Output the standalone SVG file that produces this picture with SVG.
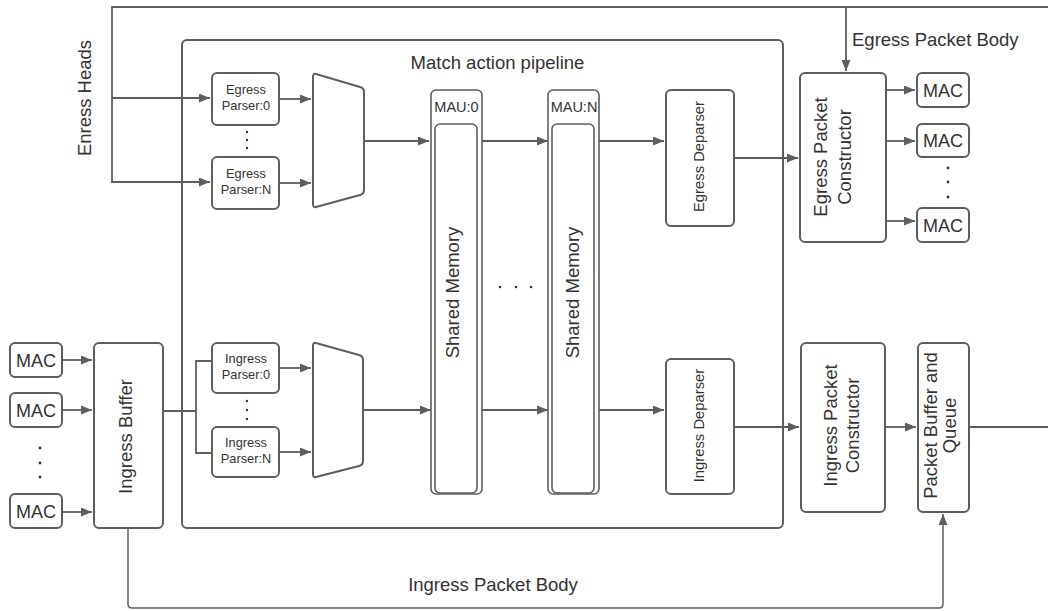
<svg xmlns="http://www.w3.org/2000/svg" width="1048" height="611" viewBox="0 0 1048 611">
<defs>
<marker id="ah" markerUnits="userSpaceOnUse" markerWidth="11" markerHeight="9" refX="11" refY="4.5" orient="auto">
<path d="M0,0 L11,4.5 L0,9 z" fill="#5e5e5e"/>
</marker>
<style>
.box{fill:#fff;stroke:#5e5e5e;stroke-width:2}
.thin{fill:#fff;stroke:#5e5e5e;stroke-width:1.6}
.c{fill:none;stroke:#5e5e5e;stroke-width:1.8}
.ca{fill:none;stroke:#5e5e5e;stroke-width:1.8;marker-end:url(#ah)}
text{font-family:"Liberation Sans",Arial,sans-serif;fill:#333;text-anchor:middle}
.big{font-size:18.5px}
.mac{font-size:18px}
.mau{font-size:14.5px}
.dep{font-size:14.8px}
.par{font-size:12.8px}
.dot{fill:#333}
</style>
</defs>
<rect width="1048" height="611" fill="#fff"/>

<g id="pipeline">
<rect class="box" x="182" y="40" width="601" height="488" rx="5"/>
<text class="big" x="497.5" y="69">Match action pipeline</text>
</g>

<g id="connectors">
<path class="ca" d="M1048,7 H112 V182 H210"/>
<path class="ca" d="M112,98 H210"/>
<path class="ca" d="M846,7 V71"/>
<path class="ca" d="M279,99 H311"/>
<path class="ca" d="M279,183 H311"/>
<path class="ca" d="M364,141 H429"/>
<path class="ca" d="M478,141 H548"/>
<path class="ca" d="M596,141 H664"/>
<path class="ca" d="M734,158 H798"/>
<path class="ca" d="M886,90 H915"/>
<path class="ca" d="M886,141 H915"/>
<path class="ca" d="M886,221 H915"/>
<path class="ca" d="M62,360 H92"/>
<path class="ca" d="M62,410 H92"/>
<path class="ca" d="M62,512 H92"/>
<path class="c" d="M163,411 H196"/>
<path class="c" d="M212,361 H196 V453 H212"/>
<path class="ca" d="M279,368 H311"/>
<path class="ca" d="M279,452 H311"/>
<path class="ca" d="M363,410 H431"/>
<path class="ca" d="M478,410 H548"/>
<path class="ca" d="M596,410 H664"/>
<path class="ca" d="M734,427 H799"/>
<path class="ca" d="M885,427 H916"/>
<path class="c" d="M969,427 H1048"/>
<path class="ca" style="stroke-width:1.5" d="M128,528 V604 Q128,608 132,608 H939 Q943,608 943,604 V514"/>
<text class="big" transform="translate(91,98) rotate(-90)">Enress Heads</text>
<text class="big" x="852" y="46" style="text-anchor:start">Egress Packet Body</text>
<text class="big" x="493" y="591">Ingress Packet Body</text>
</g>

<g id="egress-parser-0">
<rect class="box" x="212" y="73" width="67" height="52" rx="5"/>
<text class="par" x="246" y="94">Egress</text>
<text class="par" x="246" y="110">Parser:0</text>
</g>
<g id="egress-parser-dots">
<circle class="dot" cx="247" cy="132" r="1.2"/>
<circle class="dot" cx="247" cy="140" r="1.2"/>
<circle class="dot" cx="247" cy="148" r="1.2"/>
</g>
<g id="egress-parser-n">
<rect class="box" x="212" y="157" width="67" height="52" rx="5"/>
<text class="par" x="246" y="178">Egress</text>
<text class="par" x="246" y="194">Parser:N</text>
</g>
<g id="egress-mux">
<path class="box" stroke-linejoin="round" d="M316,74 L360,87 Q364,88 364,92 L364,190 Q364,194 360,195 L316,207 Q313,208 313,204 L313,77 Q313,73 316,74 z"/>
</g>

<g id="ingress-parser-0">
<rect class="box" x="212" y="343" width="67" height="50" rx="5"/>
<text class="par" x="246" y="363">Ingress</text>
<text class="par" x="246" y="379">Parser:0</text>
</g>
<g id="ingress-parser-dots">
<circle class="dot" cx="247" cy="401" r="1.2"/>
<circle class="dot" cx="247" cy="410" r="1.2"/>
<circle class="dot" cx="247" cy="419" r="1.2"/>
</g>
<g id="ingress-parser-n">
<rect class="box" x="212" y="427" width="67" height="50" rx="5"/>
<text class="par" x="246" y="447">Ingress</text>
<text class="par" x="246" y="463">Parser:N</text>
</g>
<g id="ingress-mux">
<path class="box" stroke-linejoin="round" d="M316,343 L359,355 Q363,356 363,360 L363,461 Q363,465 359,466 L316,477 Q313,478 313,474 L313,346 Q313,342 316,343 z"/>
</g>

<g id="mau-0">
<rect class="thin" x="431" y="90" width="51" height="404" rx="5"/>
<text class="mau" x="456.5" y="112">MAU:0</text>
<rect class="thin" x="435" y="124" width="42" height="369" rx="5"/>
<text class="big" transform="translate(459,292.5) rotate(-90)">Shared Memory</text>
</g>
<g id="mau-dots">
<circle class="dot" cx="500" cy="287" r="1.3"/>
<circle class="dot" cx="516" cy="287" r="1.3"/>
<circle class="dot" cx="531" cy="287" r="1.3"/>
</g>
<g id="mau-n">
<rect class="thin" x="548" y="90" width="51" height="404" rx="5"/>
<text class="mau" x="574" y="112">MAU:N</text>
<rect class="thin" x="552" y="124" width="42" height="369" rx="5"/>
<text class="big" transform="translate(579,292.5) rotate(-90)">Shared Memory</text>
</g>

<g id="egress-deparser">
<rect class="box" x="666" y="90" width="68" height="136" rx="5"/>
<text class="dep" transform="translate(703.5,156.5) rotate(-90)">Egress Deparser</text>
</g>
<g id="ingress-deparser">
<rect class="box" x="666" y="359" width="68" height="135" rx="5"/>
<text class="dep" transform="translate(703.5,425.5) rotate(-90)">Ingress Deparser</text>
</g>

<g id="egress-packet-constructor">
<rect class="box" x="800" y="73" width="86" height="169" rx="5"/>
<text class="big" transform="translate(827,157) rotate(-90)">Egress Packet</text>
<text class="big" transform="translate(850.5,157) rotate(-90)">Constructor</text>
</g>
<g id="ingress-packet-constructor">
<rect class="box" x="801" y="343" width="84" height="169" rx="5"/>
<text class="big" transform="translate(836.5,425.5) rotate(-90)">Ingress Packet</text>
<text class="big" transform="translate(858.5,425.5) rotate(-90)">Constructor</text>
</g>
<g id="packet-buffer-queue">
<rect class="box" x="918" y="343" width="51" height="169" rx="5"/>
<text class="big" transform="translate(936.5,425.5) rotate(-90)">Packet Buffer and</text>
<text class="big" transform="translate(956,425.5) rotate(-90)">Queue</text>
</g>

<g id="egress-mac-0">
<rect class="box" x="917" y="73" width="52" height="34" rx="5"/>
<text class="mac" x="943" y="96.5">MAC</text>
</g>
<g id="egress-mac-1">
<rect class="box" x="917" y="124" width="52" height="33" rx="5"/>
<text class="mac" x="943" y="147">MAC</text>
</g>
<g id="egress-mac-dots">
<circle class="dot" cx="948" cy="168" r="1.4"/>
<circle class="dot" cx="948" cy="182" r="1.4"/>
<circle class="dot" cx="948" cy="197" r="1.4"/>
</g>
<g id="egress-mac-n">
<rect class="box" x="917" y="208" width="52" height="34" rx="5"/>
<text class="mac" x="943" y="231.5">MAC</text>
</g>

<g id="ingress-mac-0">
<rect class="box" x="10" y="343" width="52" height="34" rx="5"/>
<text class="mac" x="36" y="366.5">MAC</text>
</g>
<g id="ingress-mac-1">
<rect class="box" x="10" y="393" width="52" height="34" rx="5"/>
<text class="mac" x="36" y="416.5">MAC</text>
</g>
<g id="ingress-mac-dots">
<circle class="dot" cx="40" cy="448" r="1.4"/>
<circle class="dot" cx="40" cy="463" r="1.4"/>
<circle class="dot" cx="40" cy="477" r="1.4"/>
</g>
<g id="ingress-mac-n">
<rect class="box" x="10" y="494" width="52" height="34" rx="5"/>
<text class="mac" x="36" y="517.5">MAC</text>
</g>

<g id="ingress-buffer">
<rect class="box" x="94" y="343" width="69" height="185" rx="5"/>
<text class="big" transform="translate(131.5,436.5) rotate(-90)">Ingress Buffer</text>
</g>
</svg>
